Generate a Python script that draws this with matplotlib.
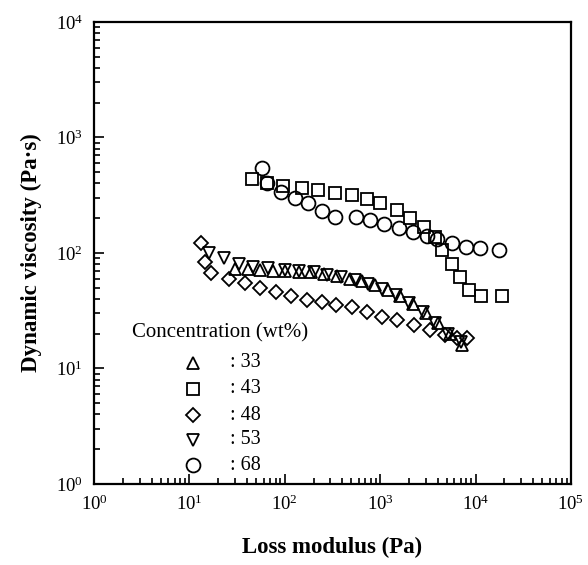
import matplotlib
matplotlib.use("Agg")
import matplotlib.pyplot as plt
from matplotlib.ticker import LogLocator, NullFormatter, FixedLocator

plt.rcParams["font.family"] = "Liberation Serif"
plt.rcParams["mathtext.fontset"] = "custom"
plt.rcParams["mathtext.rm"] = "Liberation Serif"

# data: loss modulus (Pa) vs dynamic viscosity (Pa·s)
x33 = [30, 41, 55, 75, 100, 140, 190, 260, 350, 480, 650, 880, 1200, 1600, 2200, 3000, 4000, 5400, 7200]
y33 = [72, 72, 71, 70, 70, 69, 68, 66, 63, 60, 57, 53, 48, 42, 36, 30, 25, 20, 16]

x43 = [45, 65, 96, 150, 224, 336, 503, 724, 1000, 1496, 2070, 2860, 3800, 4470, 5690, 6840, 8500, 11300, 19100]
y43 = [435, 406, 380, 363, 351, 333, 318, 292, 269, 236, 200, 169, 137, 106, 81, 62, 48, 42, 42.5]

x48 = [13.3, 14.4, 16.9, 26, 38, 54.5, 80, 117, 169, 243, 348, 503, 725, 1040, 1500, 2240, 3360, 4830, 6400, 8130]
y48 = [123, 84, 66.7, 59, 54.7, 49.5, 46, 42.5, 39, 37.9, 35.4, 33.8, 31, 28, 26.3, 23.8, 21.5, 19.5, 18.2, 18.2]

x53 = [16, 23, 33, 46, 67, 100, 140, 200, 280, 390, 540, 750, 1050, 1450, 2000, 2800, 3800, 5200, 7000]
y53 = [99, 90, 81, 76, 74, 71, 70, 68, 65, 62, 58, 54, 49, 43, 37, 31, 25, 20, 17]

x68 = [57, 65, 92, 127, 176, 243, 336, 558, 785, 1084, 1560, 2207, 3090, 3980, 5680, 7850, 11200, 17600]
y68 = [541, 401, 340, 298, 269, 231, 206, 206, 193, 178, 164, 153, 140, 131, 121, 112, 110, 106]

labels = [": 33", ": 43", ": 48", ": 53", ": 68"]
markers = ["^", "s", "D", "v", "o"]
sizes = [9, 8.6, 7.2, 9, 10]

fig = plt.figure(figsize=(5.88, 5.65), dpi=100)
ax = fig.add_axes([0.160, 0.1434, 0.811, 0.8177])

series = [(x33, y33), (x43, y43), (x48, y48), (x53, y53), (x68, y68)]
for (xs, ys), m, s in zip(series, markers, sizes):
    ax.plot(xs, ys, ls="none", marker=m, ms=s, mfc="none", mec="black", mew=1.3)

ax.set_xscale("log")
ax.set_yscale("log")
ax.set_xlim(1, 1e5)
ax.set_ylim(1, 1e4)

dec = [10.0 ** k for k in range(6)]
ax.xaxis.set_major_locator(FixedLocator(dec))
ax.set_xticklabels([r"$\mathregular{10^{%d}}$" % k for k in range(6)])
ax.yaxis.set_major_locator(FixedLocator(dec[:5]))
ax.set_yticklabels([r"$\mathregular{10^{%d}}$" % k for k in range(5)])
for a in (ax.xaxis, ax.yaxis):
    a.set_minor_locator(LogLocator(base=10, subs=range(2, 10), numticks=20))
    a.set_minor_formatter(NullFormatter())

ax.tick_params(which="both", direction="in", top=False, right=False, width=1.2, labelsize=13.5)
ax.tick_params(which="major", length=7, pad=8)
ax.tick_params(which="minor", length=4)
for sp in ax.spines.values():
    sp.set_linewidth(1.6)

ax.set_xlabel("Loss modulus (Pa)", fontsize=16.5, fontweight="bold", labelpad=16)
ax.set_ylabel("Dynamic viscosity (Pa·s)", fontsize=16.5, fontweight="bold", labelpad=10)

# legend drawn by hand: title then marker + label rows
ax.text(0.08, 0.327, "Concentration (wt%)", transform=ax.transAxes, fontsize=15,
        ha="left", va="center")
rows = [0.262, 0.2056, 0.149, 0.0952, 0.041]
for m, s, lab, yy in zip(markers, sizes, labels, rows):
    ax.plot([0.2075], [yy], transform=ax.transAxes, ls="none", marker=m, ms=s,
            mfc="none", mec="black", mew=1.3, clip_on=False)
    ax.text(0.285, yy, lab, transform=ax.transAxes, fontsize=14.5, ha="left", va="center")

fig.savefig("out.png", dpi=100, facecolor="white")
